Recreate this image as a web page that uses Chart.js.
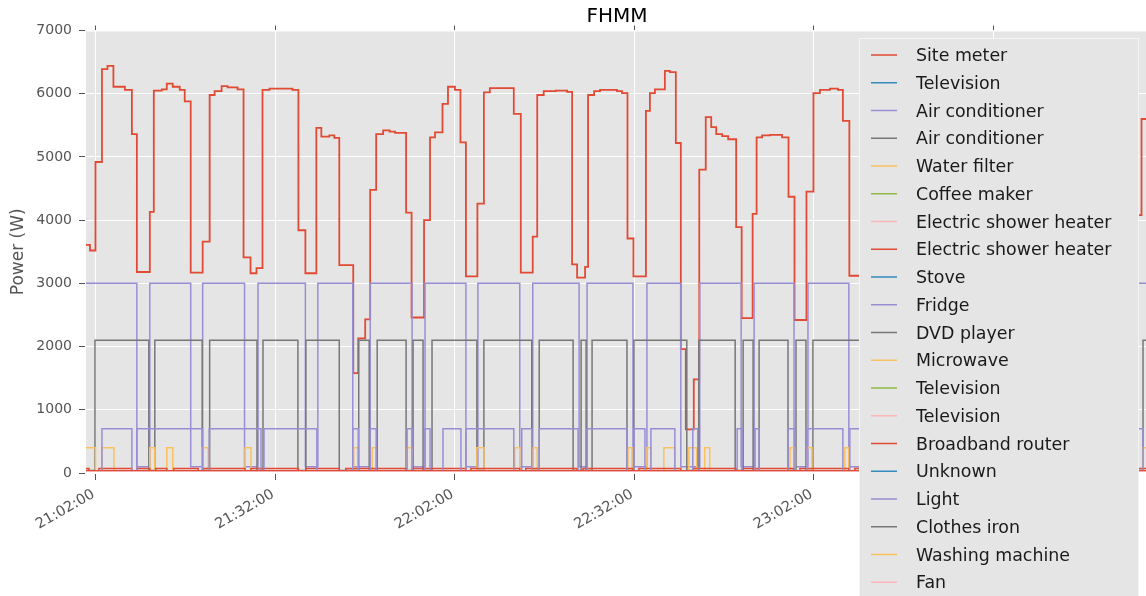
<!DOCTYPE html>
<html>
<head>
<meta charset="utf-8">
<title>FHMM</title>
<script src="https://cdn.jsdelivr.net/npm/chart.js@4/dist/chart.umd.min.js"></script>
<style>
  html, body { margin: 0; padding: 0; background: #ffffff; overflow: hidden; }
  #wrap { width: 1149px; height: 596px; }
</style>
</head>
<body>
<div id="wrap"><canvas id="c" width="1149" height="596"></canvas></div>
<script>
// ---- time axis ----
const axisStart = "21:00:10";
const axisEnd = "23:58:00";
const tickTimes = ["21:02:00", "21:32:00", "22:02:00", "22:32:00", "23:02:00", "23:32:00"];
const powerTicks = [0, 1000, 2000, 3000, 4000, 5000, 6000, 7000];

// ---- series (each value holds from its time until the next one) ----
const siteMeterTimes = ["21:00:10","21:01:00","21:01:55","21:03:00","21:03:55","21:04:55","21:06:50","21:08:00","21:08:50","21:11:00",
  "21:11:40","21:13:00","21:13:50","21:14:50","21:16:00","21:16:50","21:17:50","21:19:50","21:21:00","21:21:50",
  "21:23:00","21:24:00","21:25:40","21:26:40","21:27:50","21:28:50","21:29:50","21:31:00","21:34:50","21:35:50",
  "21:37:00","21:38:50","21:39:40","21:41:00","21:41:50","21:42:40","21:45:00","21:45:50","21:47:00","21:47:50",
  "21:48:50","21:50:00","21:51:05","21:52:00","21:53:50","21:54:45","21:56:50","21:57:50","21:58:40","21:59:55",
  "22:00:50","22:02:00","22:02:55","22:03:50","22:05:45","22:06:50","22:07:50","22:11:50","22:13:00","22:15:00",
  "22:15:45","22:16:50","22:18:50","22:20:45","22:21:35","22:22:25","22:23:45","22:24:15","22:25:15","22:26:15",
  "22:29:05","22:29:55","22:30:50","22:31:50","22:33:55","22:34:35","22:35:25","22:37:05","22:37:55","22:38:55",
  "22:39:45","22:40:35","22:41:55","22:42:50","22:43:55","22:44:50","22:45:40","22:46:40","22:47:40","22:49:00",
  "22:49:55","22:51:45","22:52:25","22:53:20","22:54:40","22:56:40","22:57:45","22:58:45","23:00:45","23:01:55",
  "23:03:00","23:04:40","23:06:00","23:06:50","23:07:55","23:54:50","23:56:45","23:58:00"];
const siteMeterWatts = [3610,3520,4920,6390,6440,6110,6060,5360,3180,4130,
  6050,6070,6160,6110,6060,5880,3170,3660,5980,6040,
  6120,6100,6070,3410,3160,3240,6060,6080,6060,3840,
  3160,5460,5320,5340,5300,3290,1580,2130,2430,4480,
  5360,5420,5400,5380,4120,2460,4000,5310,5390,5840,
  6110,6060,5230,3110,4260,6020,6090,5680,3170,3740,
  5980,6040,6050,6030,3300,3090,3260,5980,6040,6060,
  6040,6010,3710,3110,5730,6010,6070,6360,6340,5220,
  1960,690,1480,4800,5630,5470,5360,5330,5280,3890,
  2450,4100,5310,5340,5350,5310,4370,2420,4450,6010,
  6060,6080,6060,5570,3120,4080,5600,5600];

const airCond1Times = ["21:00:10","21:08:50","21:11:00","21:17:50","21:19:50","21:26:50","21:29:05","21:37:00","21:39:05","21:44:55",
  "21:47:50","21:54:50","21:57:00","22:03:50","22:05:50","22:12:50","22:15:00","22:22:45","22:24:05","22:31:45",
  "22:34:05","22:39:45","22:42:55","22:49:50","22:52:00","22:58:40","23:01:00","23:07:50","23:56:00","23:58:00"];
const airCond1Watts = [3000,100,3000,100,3000,100,3000,100,3000,100,
  3000,100,3000,100,3000,100,3000,100,3000,100,
  3000,100,3000,100,3000,100,3000,100,3000,3000];

const airCond2Times = ["21:00:10","21:01:50","21:10:50","21:11:50","21:19:45","21:21:00","21:28:55","21:29:55","21:35:45","21:37:05",
  "21:42:40","21:45:55","21:47:40","21:49:00","21:53:50","21:55:00","21:56:40","21:58:10","22:05:40","22:06:50",
  "22:14:50","22:16:05","22:21:45","22:23:05","22:23:55","22:24:55","22:30:45","22:31:55","22:40:45","22:42:45",
  "22:48:50","22:50:10","22:51:50","22:52:50","22:57:40","22:59:00","23:00:40","23:01:50","23:54:50","23:57:00","23:58:00"];
const airCond2Watts = [40,2100,40,2100,40,2100,40,2100,40,2100,
  40,2100,40,2100,40,2100,40,2100,40,2100,
  40,2100,40,2100,40,2100,40,2100,40,2100,
  40,2100,40,2100,40,2100,40,2100,40,2100,2100];

const fridgeTimes = ["21:00:10","21:03:00","21:08:00","21:08:50","21:19:50","21:20:55","21:29:35","21:30:05","21:38:55","21:44:55",
  "21:45:50","21:47:50","21:48:50","21:54:00","21:54:50","21:57:00","21:57:50","22:00:00","22:03:00","22:03:50",
  "22:11:50","22:13:10","22:14:50","22:16:05","22:22:35","22:24:05","22:30:45","22:31:55","22:33:45","22:34:45",
  "22:38:45","22:41:45","22:42:35","22:49:10","22:50:00","22:52:10","22:52:50","22:57:40","22:58:50","23:00:50",
  "23:06:50","23:08:00","23:09:40","23:55:50","23:57:00","23:58:00"];
const fridgeWatts = [10,700,10,700,10,700,10,700,10,700,
  10,700,10,700,10,700,10,700,10,700,
  10,700,10,700,10,700,10,700,10,700,
  10,700,10,700,10,700,10,700,10,700,
  10,700,10,700,10,10];

const waterFilterTimes = ["21:00:10","21:01:55","21:03:00","21:05:00","21:11:00","21:11:50","21:13:50","21:14:50","21:19:45","21:20:45",
  "21:26:55","21:27:55","21:45:05","21:45:50","21:48:10","21:48:50","21:54:00","21:54:50","22:05:40","22:06:50",
  "22:12:00","22:12:50","22:15:00","22:15:45","22:30:55","22:31:35","22:34:05","22:34:45","22:36:55","22:38:45",
  "22:41:05","22:42:25","22:43:45","22:44:35","22:58:00","22:58:50","23:00:50","23:01:40","23:07:10","23:07:50",
  "23:57:00","23:58:00"];
const waterFilterWatts = [400,5,400,5,400,5,400,5,400,5,
  400,5,400,5,400,5,400,5,400,5,
  400,5,400,5,400,5,400,5,400,5,
  400,5,400,5,400,5,400,5,400,5,
  400,400];

const showerHeater2Times = ["21:00:10","21:00:50","21:02:30","21:08:00","21:08:50","21:11:00","21:12:00","21:13:50","21:15:00","21:19:05",
  "21:19:50","21:26:55","21:27:55","21:35:50","21:37:05","21:42:40","21:43:45","21:53:50","21:54:50","22:03:50",
  "22:04:40","22:12:50","22:13:50","22:22:25","22:23:25","22:31:45","22:32:45","22:39:45","22:41:45","22:49:00",
  "22:50:00","22:58:40","22:59:40","23:07:50","23:08:50","23:58:00"];
const showerHeater2Watts = [70,25,70,25,70,25,70,25,70,25,
  70,25,70,25,70,25,70,25,70,25,
  70,25,70,25,70,25,70,25,70,25,
  70,25,70,25,70,70];

// near-idle appliances
const flatTimes = ["21:00:10", "23:58:00"];
const television1Watts = [15, 15];
const coffeeMakerWatts = [0, 0];
const showerHeater1Watts = [5, 5];
const stoveWatts = [0, 0];
const dvdPlayerWatts = [10, 10];
const microwaveWatts = [20, 20];
const television2Watts = [5, 5];
const television3Watts = [20, 20];
const broadbandRouterWatts = [35, 35];
const unknownWatts = [10, 10];
const lightWatts = [20, 20];
const clothesIronWatts = [0, 0];
const washingMachineWatts = [10, 10];
const fanWatts = [15, 15];

// ggplot colour cycle
const RED = '#E24A33', BLUE = '#348ABD', PURPLE = '#988ED5', GRAY = '#777777',
      YELLOW = '#FBC15E', GREEN = '#8EBA42', PINK = '#FFB5B8';

const FONT = "'DejaVu Sans', 'Liberation Sans', sans-serif";

function toSec(t) {
  const p = t.split(':').map(Number);
  return p[0] * 3600 + p[1] * 60 + p[2];
}
function fmtTime(s) {
  const h = Math.floor(s / 3600), m = Math.floor((s % 3600) / 60), sec = Math.round(s % 60);
  const pad = v => String(v).padStart(2, '0');
  return pad(h) + ':' + pad(m) + ':' + pad(sec);
}

const seriesDefs = [
  ['Site meter', RED, siteMeterTimes, siteMeterWatts],
  ['Television', BLUE, flatTimes, television1Watts],
  ['Air conditioner', PURPLE, airCond1Times, airCond1Watts],
  ['Air conditioner', GRAY, airCond2Times, airCond2Watts],
  ['Water filter', YELLOW, waterFilterTimes, waterFilterWatts],
  ['Coffee maker', GREEN, flatTimes, coffeeMakerWatts],
  ['Electric shower heater', PINK, flatTimes, showerHeater1Watts],
  ['Electric shower heater', RED, showerHeater2Times, showerHeater2Watts],
  ['Stove', BLUE, flatTimes, stoveWatts],
  ['Fridge', PURPLE, fridgeTimes, fridgeWatts],
  ['DVD player', GRAY, flatTimes, dvdPlayerWatts],
  ['Microwave', YELLOW, flatTimes, microwaveWatts],
  ['Television', GREEN, flatTimes, television2Watts],
  ['Television', PINK, flatTimes, television3Watts],
  ['Broadband router', RED, flatTimes, broadbandRouterWatts],
  ['Unknown', BLUE, flatTimes, unknownWatts],
  ['Light', PURPLE, flatTimes, lightWatts],
  ['Clothes iron', GRAY, flatTimes, clothesIronWatts],
  ['Washing machine', YELLOW, flatTimes, washingMachineWatts],
  ['Fan', PINK, flatTimes, fanWatts]
];

const datasets = seriesDefs.map(([label, color, times, watts], i) => ({
  label,
  borderColor: color,
  backgroundColor: color,
  borderWidth: i === 0 ? 1.8 : 1.5,
  pointRadius: 0,
  stepped: true,
  fill: false,
  order: -i, // later series drawn on top
  data: times.map((t, k) => ({ x: toSec(t), y: watts[k] }))
}));

// grey panel behind the plot, white frame and slanted time labels
const panelPlugin = {
  id: 'panel',
  beforeDraw(chart) {
    const { ctx, chartArea: a } = chart;
    ctx.save();
    ctx.fillStyle = '#E5E5E5';
    ctx.fillRect(a.left, a.top, a.right - a.left, a.bottom - a.top);
    ctx.restore();
  },
  afterDatasetsDraw(chart) {
    const { ctx, chartArea: a } = chart;
    ctx.save();
    ctx.strokeStyle = '#ffffff';
    ctx.lineWidth = 1;
    ctx.strokeRect(a.left + 0.5, a.top + 0.5, a.right - a.left - 1, a.bottom - a.top - 1);

    // time labels, rotated 30 degrees and right-anchored under each tick
    const xs = chart.scales.x;
    ctx.font = '14.5px ' + FONT;
    ctx.fillStyle = '#555555';
    ctx.textAlign = 'right';
    ctx.textBaseline = 'top';
    xs.ticks.forEach(t => {
      const px = xs.getPixelForValue(t.value);
      ctx.save();
      ctx.translate(px - 6, a.bottom + 14);
      ctx.rotate(-Math.PI / 6);
      ctx.fillText(fmtTime(t.value), 0, 0);
      ctx.restore();
    });
    ctx.restore();
  }
};

// legend box laid over the upper right of the plot
const legendPlugin = {
  id: 'boxLegend',
  afterDraw(chart) {
    const { ctx } = chart;
    const left = 859, top = 38, width = 280;
    const rowH = 27.75, firstRow = 55;
    ctx.save();
    ctx.fillStyle = '#E5E5E5';
    ctx.fillRect(left, top, width, chart.height - top + 20);
    ctx.strokeStyle = '#F4F4F4';
    ctx.lineWidth = 1;
    ctx.strokeRect(left + 0.5, top + 0.5, width - 1, chart.height - top + 20);
    ctx.font = '17.4px ' + FONT;
    ctx.textBaseline = 'alphabetic';
    chart.data.datasets.forEach((ds, i) => {
      const y = firstRow + i * rowH;
      ctx.strokeStyle = ds.borderColor;
      ctx.lineWidth = 1.5;
      ctx.beginPath();
      ctx.moveTo(871, y);
      ctx.lineTo(897, y);
      ctx.stroke();
      ctx.fillStyle = '#1a1a1a';
      ctx.fillText(ds.label, 916, y + 6);
    });
    ctx.restore();
  }
};

const tickValues = tickTimes.map(toSec);

Chart.defaults.font.family = FONT;

new Chart(document.getElementById('c'), {
  type: 'line',
  data: { datasets },
  options: {
    responsive: false,
    animation: false,
    devicePixelRatio: 1,
    layout: { padding: 0 },
    events: [],
    plugins: {
      legend: { display: false },
      tooltip: { enabled: false },
      title: {
        display: true,
        text: 'FHMM',
        fullSize: false,
        color: '#000000',
        font: { family: FONT, size: 20, weight: 'normal' },
        padding: { top: 5, bottom: 1.5 }
      }
    },
    scales: {
      x: {
        type: 'linear',
        position: 'bottom',
        min: toSec(axisStart),
        max: toSec(axisEnd),
        afterBuildTicks: s => { s.ticks = tickValues.map(v => ({ value: v })); },
        afterFit: s => { s.height = 123; },
        ticks: { display: false },
        grid: { color: '#ffffff', lineWidth: 1, tickColor: '#555555', tickLength: 7 },
        border: { display: false }
      },
      xTop: {
        type: 'linear',
        position: 'top',
        min: toSec(axisStart),
        max: toSec(axisEnd),
        afterBuildTicks: s => { s.ticks = tickValues.map(v => ({ value: v })); },
        afterFit: s => { s.height = 0; },
        ticks: { display: false },
        grid: { drawOnChartArea: false, tickColor: '#555555', tickLength: 5 },
        border: { display: false }
      },
      y: {
        min: 0,
        max: 7000,
        afterBuildTicks: s => { s.ticks = powerTicks.map(v => ({ value: v })); },
        afterFit: s => { s.width = 85; },
        ticks: { color: '#555555', font: { size: 14 }, padding: 7, callback: v => String(v) },
        grid: { color: '#ffffff', lineWidth: 1, tickColor: '#555555', tickLength: 6 },
        border: { display: false },
        title: {
          display: true,
          text: 'Power (W)',
          color: '#555555',
          font: { size: 17 },
          padding: { top: 8, bottom: 0 }
        }
      }
    }
  },
  plugins: [panelPlugin, legendPlugin]
});
</script>
</body>
</html>
